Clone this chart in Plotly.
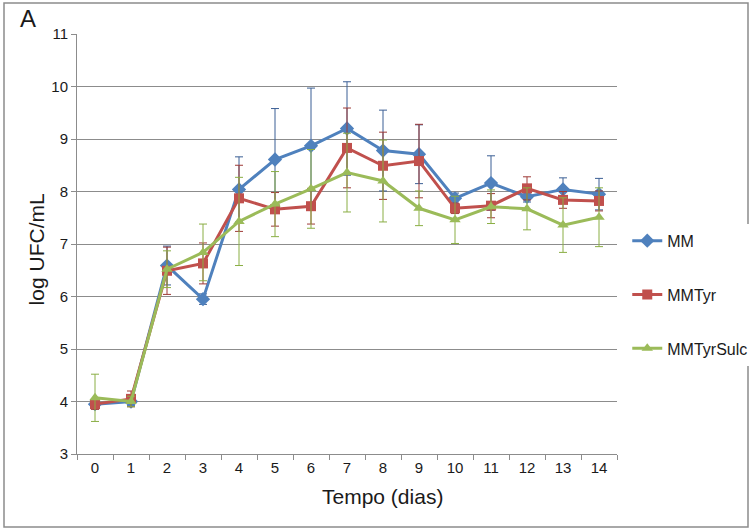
import plotly.graph_objects as go

dias = [str(d) for d in range(15)]

mm = [3.95, 4.00, 6.59, 5.95, 8.04, 8.61, 8.87, 9.20, 8.78, 8.71, 7.87, 8.16, 7.90, 8.04, 7.95]
mm_err = [0.08, 0.08, 0.37, 0.10, 0.62, 0.97, 1.10, 0.89, 0.77, 0.56, 0.10, 0.52, 0.10, 0.22, 0.30]

mmtyr = [3.95, 4.05, 6.49, 6.63, 7.87, 7.66, 7.72, 8.83, 8.49, 8.58, 7.68, 7.73, 8.06, 7.84, 7.82]
mmtyr_err = [0.10, 0.15, 0.45, 0.39, 0.63, 0.32, 0.34, 0.76, 0.64, 0.70, 0.10, 0.23, 0.22, 0.16, 0.19]

mmtyrsulc = [4.07, 4.00, 6.52, 6.84, 7.43, 7.76, 8.05, 8.36, 8.20, 7.68, 7.46, 7.71, 7.67, 7.36, 7.51]
mmtyrsulc_err = [0.45, 0.10, 0.35, 0.54, 0.84, 0.62, 0.75, 0.75, 0.78, 0.33, 0.45, 0.32, 0.40, 0.52, 0.56]

series = [
    ("MM", mm, mm_err, "#4F81BD", "#3B5F95", "diamond", 11),
    ("MMTyr", mmtyr, mmtyr_err, "#C0504D", "#9E3A37", "square", 10),
    ("MMTyrSulc", mmtyrsulc, mmtyrsulc_err, "#9BBB59", "#8AAE44", "triangle-up", 10),
]

fig = go.Figure()
for name, vals, errs, color, ecolor, symbol, size in series:
    fig.add_trace(go.Scatter(
        x=dias, y=vals, name=name, legendgroup=name,
        mode="lines+markers",
        line=dict(color=color, width=3),
        marker=dict(symbol=symbol, size=size, color=color),
        error_y=dict(type="data", array=errs, visible=True,
                     color=ecolor, thickness=1, width=4),
    ))

font_family = "Liberation Sans, Arial, sans-serif"
text_color = "#1a1a1a"

fig.update_layout(
    width=753, height=530,
    margin=dict(l=77, r=136, t=34, b=76, autoexpand=False),
    paper_bgcolor="white", plot_bgcolor="white",
    font=dict(family=font_family, size=15, color=text_color),
    showlegend=True,
    legend=dict(x=1.019, y=0.379, xanchor="left", yanchor="middle",
                font=dict(size=16), tracegroupgap=30,
                traceorder="grouped", itemwidth=30),
    xaxis=dict(
        type="category", range=[-0.5, 14.5],
        showline=True, linecolor="#8c8c8c", linewidth=1,
        ticks="outside", ticklen=5, tickcolor="#8c8c8c",
        tickson="boundaries", showgrid=False,
        tickfont=dict(size=15),
    ),
    yaxis=dict(
        range=[3, 11], dtick=1, tick0=3,
        showline=True, linecolor="#8c8c8c", linewidth=1,
        ticks="outside", ticklen=5, tickcolor="#8c8c8c",
        showgrid=True, gridcolor="#8c8c8c", gridwidth=1,
        zeroline=False,
        tickfont=dict(size=15),
    ),
    annotations=[
        dict(text="A", xref="paper", yref="paper",
             x=-0.0907, y=1.036, xanchor="center", yanchor="middle",
             showarrow=False, font=dict(size=24, color=text_color)),
        dict(text="Tempo (dias)", xref="paper", yref="paper",
             x=0.565, y=-0.102, xanchor="center", yanchor="middle",
             showarrow=False, font=dict(size=21, color=text_color)),
        dict(text="log UFC/mL", xref="paper", yref="paper", textangle=-90,
             x=-0.075, y=0.486, xanchor="center", yanchor="middle",
             showarrow=False, font=dict(size=21, color=text_color)),
    ],
    shapes=[
        dict(type="rect", xref="paper", yref="paper",
             x0=-73 / 540, x1=1 + 131 / 540,
             y0=-73 / 420, y1=1 + 31 / 420,
             line=dict(color="#8c8c8c", width=1.5)),
    ],
)

fig.write_html("out.html")
